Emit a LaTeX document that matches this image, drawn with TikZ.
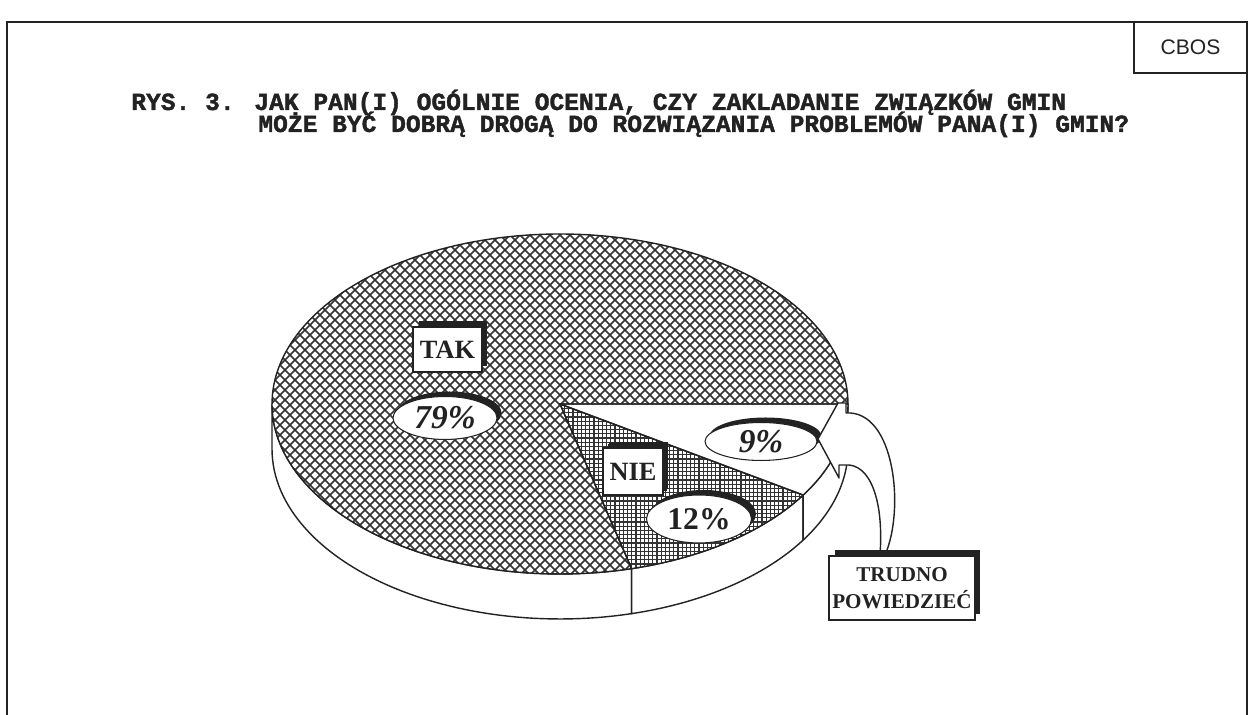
\documentclass[tikz,border=0pt]{standalone}
\usepackage{fontspec}
\setmainfont{Liberation Serif}
\newfontfamily\monof[FakeBold=1.6]{Liberation Mono Bold}
\newfontfamily\sansf{Liberation Sans}
\usetikzlibrary{shapes.geometric,shadows}
\definecolor{ink}{HTML}{222222}
\definecolor{hatch}{HTML}{333333}
\tikzset{
  outline/.style={draw=ink, line width=0.8pt, line join=round},
  hatchline/.style={hatch, line width=0.95pt},
  gridline/.style={hatch, line width=0.6pt},
  lblbox/.style={rectangle, draw=ink, fill=white, line width=0.6pt, inner sep=0pt, text=ink, font=\bfseries,
     drop shadow={shadow xshift=0.11cm, shadow yshift=0.11cm, fill=ink, opacity=1}},
  lblell/.style={ellipse, draw=ink, fill=white, line width=0.6pt, inner sep=0pt, text=ink,
     drop shadow={shadow xshift=0.09cm, shadow yshift=0.1cm, fill=ink, opacity=1}},
}
\begin{document}
\begin{tikzpicture}[x=0.02cm,y=0.02cm]
\useasboundingbox (0,0) rectangle (1249,715);
\fill[white] (0,0) rectangle (1249,715);
% frame
\draw[ink, line width=1.1pt] (7,0) -- (7,693) -- (1247,693) -- (1247,0);
\draw[ink, line width=0.8pt] (1134,693) -- (1134,642) -- (1247,642);
\node[text=ink, font=\sansf\fontsize{12pt}{14pt}\selectfont] (cbos) at (1190.5,667.5) {CBOS};
% title
\node[anchor=base west, inner sep=0pt, text=ink, font=\monof\fontsize{14pt}{16pt}\selectfont] (t1) at (131,605)
  {RYS. 3. JAK PAN(I) OGÓLNIE OCENIA, CZY ZAKLADANIE ZWIĄZKÓW GMIN};
\node[anchor=base west, inner sep=0pt, text=ink, font=\monof\fontsize{14pt}{16pt}\selectfont] (t2) at (258,583)
  {MOŻE BYĆ DOBRĄ DROGĄ DO ROZWIĄZANIA PROBLEMÓW PANA(I) GMIN?};
% pie parameters
\def\cx{560}\def\cy{311}\def\rx{288}\def\ry{170}\def\dd{45}
% sides
\foreach \a/\b in {180/284.4, 284.4/327.6, 327.6/360}{
  \filldraw[fill=white, outline]
    plot[domain=\a:\b, samples=60] ({\cx+\rx*cos(\x)},{\cy+\ry*sin(\x)})
    -- plot[domain=\b:\a, samples=60] ({\cx+\rx*cos(\x)},{\cy-\dd+\ry*sin(\x)}) -- cycle;
}
% TAK slice
\fill[white] (\cx,\cy) -- plot[domain=0:284.4, samples=160] ({\cx+\rx*cos(\x)},{\cy+\ry*sin(\x)}) -- cycle;
\begin{scope}
  \clip (\cx,\cy) -- plot[domain=0:284.4, samples=160] ({\cx+\rx*cos(\x)},{\cy+\ry*sin(\x)}) -- cycle;
  \foreach \i in {0,...,95}{
    \draw[hatchline] ({400+\i*10-500},500) -- ({400+\i*10-100},100);
    \draw[hatchline] ({-220+\i*10+100},100) -- ({-220+\i*10+500},500);
  }
\end{scope}
% NIE slice
\fill[white] (\cx,\cy) -- plot[domain=284.4:327.6, samples=60] ({\cx+\rx*cos(\x)},{\cy+\ry*sin(\x)}) -- cycle;
\begin{scope}
  \clip (\cx,\cy) -- plot[domain=284.4:327.6, samples=60] ({\cx+\rx*cos(\x)},{\cy+\ry*sin(\x)}) -- cycle;
  \foreach \i in {0,...,46}{
    \draw[gridline] (550,{130+\i*4.2}) -- (815,{130+\i*4.2});
  }
  \foreach \i in {0,...,64}{
    \draw[gridline] ({552+\i*4.2},125) -- ({552+\i*4.2},320);
  }
\end{scope}
% 9% slice
\fill[white] (\cx,\cy) -- plot[domain=327.6:360, samples=40] ({\cx+\rx*cos(\x)},{\cy+\ry*sin(\x)}) -- cycle;
% outlines
\draw[outline] (\cx,\cy) -- plot[domain=0:284.4, samples=160] ({\cx+\rx*cos(\x)},{\cy+\ry*sin(\x)}) -- cycle;
\draw[outline] (\cx,\cy) -- plot[domain=284.4:327.6, samples=60] ({\cx+\rx*cos(\x)},{\cy+\ry*sin(\x)}) -- cycle;
\draw[outline] (\cx,\cy) -- plot[domain=327.6:360, samples=40] ({\cx+\rx*cos(\x)},{\cy+\ry*sin(\x)}) -- cycle;
% labels
\node[lblbox, minimum width=1.38cm, minimum height=0.9cm, font=\bfseries\fontsize{15pt}{15pt}\selectfont] (tak) at (447.5,365.5) {TAK};
\node[lblell, minimum width=2.08cm, minimum height=0.86cm, font=\bfseries\itshape\fontsize{19pt}{19pt}\selectfont] (p79) at (445,297) {79\%};
\node[lblell, minimum width=2.24cm, minimum height=0.76cm, font=\bfseries\itshape\fontsize{19pt}{19pt}\selectfont] (p9) at (761,273.5) {9\%};
\node[lblbox, minimum width=1.2cm, minimum height=0.94cm, font=\bfseries\fontsize{15pt}{15pt}\selectfont,
      drop shadow={shadow xshift=0.09cm, shadow yshift=0.08cm, fill=ink, opacity=1}] (nie) at (633,243.5) {NIE};
\node[lblell, minimum width=2.1cm, minimum height=0.96cm, font=\bfseries\fontsize{18pt}{18pt}\selectfont] (p12) at (699,196) {12\%};
% arrow
\coordinate (tip) at (818,276);
\filldraw[fill=white, outline] (tip) -- (838,312) -- (846,312) -- (846,302)
   .. controls (895,305) and (905,205) .. (885,160) -- (880,160)
   .. controls (884,215) and (870,252) .. (845,250) -- (839,250) -- (839,237) -- cycle;
% trudno box
\node[lblbox, minimum width=2.92cm, minimum height=1.28cm, align=center,
      font=\bfseries\fontsize{12pt}{15.3pt}\selectfont] (tp) at (902,127) {TRUDNO\\POWIEDZIEĆ};
\end{tikzpicture}
\end{document}
